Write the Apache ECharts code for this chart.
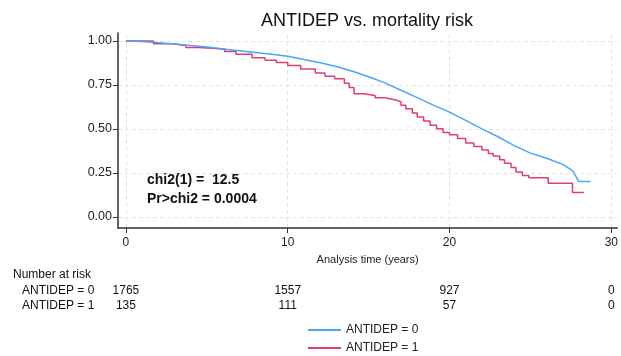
<!DOCTYPE html>
<html>
<head>
<meta charset="utf-8">
<script src="https://cdn.jsdelivr.net/npm/echarts@6/dist/echarts.min.js"></script>
<style>
  html, body { margin: 0; padding: 0; background: #fff; }
  #main { width: 621px; height: 356px; }
</style>
</head>
<body>
<div id="main"></div>
<script>
// KM survival estimates: [years, survival]
const antidep0 = [
  [0, 1], [1, 0.997], [2, 0.99], [3, 0.983], [4, 0.975], [5, 0.966], [6, 0.955],
  [7, 0.945], [8, 0.935], [9, 0.925], [10, 0.913], [11, 0.895], [12, 0.876],
  [13, 0.855], [14, 0.828], [15, 0.797], [16, 0.762], [17, 0.72], [18, 0.678],
  [19, 0.635], [20, 0.595], [21, 0.548], [22, 0.5], [23, 0.455], [24, 0.405],
  [25, 0.362], [26, 0.333], [27, 0.298], [27.6, 0.262], [28, 0.2], [28.7, 0.2]
];
const antidep1 = [
  [0, 1], [1.7, 0.985], [2.9, 0.975], [3.7, 0.963], [4.5, 0.955], [6.1, 0.94],
  [6.8, 0.925], [7.8, 0.905], [8.6, 0.89], [9.3, 0.878], [10, 0.86], [10.8, 0.84],
  [11.7, 0.818], [12.3, 0.8], [12.9, 0.785], [13.5, 0.76], [13.8, 0.735], [14.1, 0.7],
  [14.7, 0.69], [15.4, 0.677], [16, 0.666], [16.6, 0.655], [17, 0.635], [17.3, 0.615],
  [17.7, 0.59], [18, 0.568], [18.4, 0.545], [18.8, 0.52], [19.2, 0.5], [19.6, 0.48],
  [20, 0.466], [20.5, 0.445], [21, 0.42], [21.5, 0.4], [22, 0.38], [22.4, 0.36],
  [22.7, 0.345], [23.1, 0.325], [23.4, 0.305], [23.8, 0.28], [24.1, 0.255],
  [24.5, 0.235], [24.9, 0.222], [26.1, 0.19], [27.6, 0.138], [28.3, 0.138]
];
const xTicks = [0, 10, 20, 30];
const yTicks = [0, 0.25, 0.5, 0.75, 1];
const groupNames = ['ANTIDEP = 0', 'ANTIDEP = 1'];
const riskTimes = [0, 10, 20, 30];
const risk0 = [1765, 1557, 927, 0];
const risk1 = [135, 111, 57, 0];
const statLines = ['chi2(1) =  12.5', 'Pr>chi2 = 0.0004'];

const font = 'Liberation Sans, Arial, sans-serif';
const blue = '#4aa3ff';
const red = '#e03d74';

var myChart = echarts.init(document.getElementById('main'));

// dashed grid lines, drawn at the tick values
const gridLines = xTicks.map(v => ({ xAxis: v }))
  .concat(yTicks.map(v => ({ yAxis: v })));

var option = {
  animation: false,
  textStyle: { fontFamily: font },
  title: {
    text: 'ANTIDEP vs. mortality risk',
    left: 256, top: 7,
    textStyle: { fontFamily: font, fontSize: 18, fontWeight: 'normal', color: '#111' }
  },
  grid: { left: 118, top: 33, right: 1, bottom: 128 },
  xAxis: {
    type: 'value', min: -0.49, max: 30.37,
    name: 'Analysis time (years)', nameLocation: 'middle', nameGap: 26,
    nameTextStyle: { fontFamily: font, fontSize: 11, color: '#222' },
    axisLine: { onZero: false, lineStyle: { color: '#333', width: 1.5 } },
    axisTick: { customValues: xTicks, length: 5, lineStyle: { color: '#333' } },
    axisLabel: { customValues: xTicks, fontSize: 12, color: '#222', margin: 9 },
    splitLine: { show: false }
  },
  yAxis: {
    type: 'value', min: -0.064, max: 1.0455,
    axisLine: { show: true, onZero: false, lineStyle: { color: '#333', width: 1.5 } },
    axisTick: { show: true, customValues: yTicks, length: 5, lineStyle: { color: '#333' } },
    axisLabel: {
      customValues: yTicks, fontSize: 12.5, color: '#222', margin: 6,
      formatter: v => v.toFixed(2)
    },
    splitLine: { show: false }
  },
  legend: {
    data: groupNames,
    orient: 'vertical', left: 308, top: 324, padding: 0,
    itemWidth: 33, itemHeight: 2, itemGap: 6, icon: 'rect',
    textStyle: { fontFamily: font, fontSize: 12, lineHeight: 12, color: '#222' }
  },
  series: [
    {
      name: groupNames[0], type: 'line', data: antidep0,
      showSymbol: false, lineStyle: { color: blue, width: 1.5 }, itemStyle: { color: blue },
      z: 3,
      markLine: {
        silent: true, symbol: 'none', label: { show: false }, z: 0,
        lineStyle: { color: '#e3e3e3', type: [4, 3], width: 1 },
        data: gridLines
      }
    },
    {
      name: groupNames[1], type: 'line', step: 'end', data: antidep1,
      showSymbol: false, lineStyle: { color: red, width: 1.5 }, itemStyle: { color: red },
      z: 2
    }
  ]
};
myChart.setOption(option);

// number-at-risk table and test statistics
const px = t => myChart.convertToPixel({ xAxisIndex: 0 }, t);
const tstyle = { fontFamily: font, fontSize: 12, fill: '#111' };
const graphics = [
  { type: 'text', left: 13, top: 269, style: Object.assign({ text: 'Number at risk' }, tstyle) },
  { type: 'text', left: 22, top: 285, style: Object.assign({ text: groupNames[0] }, tstyle) },
  { type: 'text', left: 22, top: 300, style: Object.assign({ text: groupNames[1] }, tstyle) }
];
riskTimes.forEach((t, i) => {
  graphics.push({ type: 'text', x: px(t), y: 285,
    style: Object.assign({ text: String(risk0[i]), align: 'center' }, tstyle) });
  graphics.push({ type: 'text', x: px(t), y: 300,
    style: Object.assign({ text: String(risk1[i]), align: 'center' }, tstyle) });
});
statLines.forEach((s, i) => {
  graphics.push({ type: 'text', x: 147, y: 173 + i * 19,
    style: { text: s, fontFamily: font, fontSize: 14, fontWeight: 'bold', fill: '#111' } });
});
myChart.setOption({ graphic: graphics });
</script>
</body>
</html>
